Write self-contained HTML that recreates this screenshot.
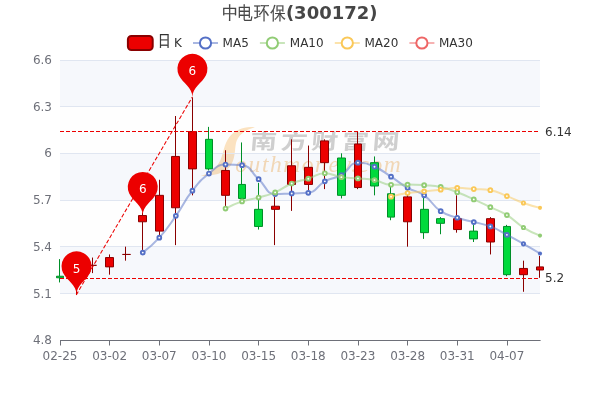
<!DOCTYPE html>
<html lang="zh"><head><meta charset="utf-8"><title>中电环保(300172)</title>
<style>html,body{margin:0;padding:0;background:#fff}body{width:600px;height:400px;overflow:hidden}svg{display:block;font-family:'DejaVu Sans', 'Liberation Sans', sans-serif}</style>
</head><body>
<svg width="600" height="400" viewBox="0 0 600 400">
<rect width="600" height="400" fill="#fff"/>
<g><path d="M255 127.3C245 126 235 129.5 229 137.5C224 144.5 223.5 153 220.5 160C217.5 167 210 173.5 200.5 176C213 176 224.5 173.5 230 166.5C235.5 159.5 234.5 150 236 143C237.5 136 244.5 130 255 127.3Z" fill="#fcddb2"/><g style="font-family:'Liberation Sans','Noto Sans CJK SC',sans-serif" font-weight="bold" font-size="21" fill="#c5c5c5"><text transform="translate(249.6 149.0) skewX(-5) scale(1.28 1)">南</text><text transform="translate(280.2 149.0) skewX(-5) scale(1.28 1)">方</text><text transform="translate(310.8 149.0) skewX(-5) scale(1.28 1)">财</text><text transform="translate(341.4 149.0) skewX(-5) scale(1.28 1)">富</text><text transform="translate(372.0 149.0) skewX(-5) scale(1.28 1)">网</text></g><text x="235.3" y="172" font-size="23.5" fill="#f9d6a8" style="font-family:'Liberation Serif',serif" font-style="italic" textLength="165.5" lengthAdjust="spacing">outhmoney.com</text></g>
<rect x="60" y="60" width="480" height="46.67" fill="rgba(210,219,238,0.2)"/>
<rect x="60" y="106.67" width="480" height="46.67" fill="rgba(250,250,250,0.2)"/>
<rect x="60" y="153.33" width="480" height="46.67" fill="rgba(210,219,238,0.2)"/>
<rect x="60" y="200" width="480" height="46.67" fill="rgba(250,250,250,0.2)"/>
<rect x="60" y="246.67" width="480" height="46.67" fill="rgba(210,219,238,0.2)"/>
<rect x="60" y="293.33" width="480" height="46.67" fill="rgba(250,250,250,0.2)"/>
<line x1="60" x2="540" y1="60.5" y2="60.5" stroke="#E0E6F1" stroke-width="1"/>
<line x1="60" x2="540" y1="106.5" y2="106.5" stroke="#E0E6F1" stroke-width="1"/>
<line x1="60" x2="540" y1="153.5" y2="153.5" stroke="#E0E6F1" stroke-width="1"/>
<line x1="60" x2="540" y1="200.5" y2="200.5" stroke="#E0E6F1" stroke-width="1"/>
<line x1="60" x2="540" y1="246.5" y2="246.5" stroke="#E0E6F1" stroke-width="1"/>
<line x1="60" x2="540" y1="293.5" y2="293.5" stroke="#E0E6F1" stroke-width="1"/>
<line x1="60" x2="540.6" y1="340.5" y2="340.5" stroke="#6E7079" stroke-width="1"/>
<line x1="60.5" x2="60.5" y1="340.5" y2="345.5" stroke="#6E7079" stroke-width="1"/>
<text x="60" y="360" font-size="12" fill="#6E7079" text-anchor="middle">02-25</text>
<line x1="109.5" x2="109.5" y1="340.5" y2="345.5" stroke="#6E7079" stroke-width="1"/>
<text x="109.66" y="360" font-size="12" fill="#6E7079" text-anchor="middle">03-02</text>
<line x1="159.5" x2="159.5" y1="340.5" y2="345.5" stroke="#6E7079" stroke-width="1"/>
<text x="159.31" y="360" font-size="12" fill="#6E7079" text-anchor="middle">03-07</text>
<line x1="209.5" x2="209.5" y1="340.5" y2="345.5" stroke="#6E7079" stroke-width="1"/>
<text x="208.97" y="360" font-size="12" fill="#6E7079" text-anchor="middle">03-10</text>
<line x1="258.5" x2="258.5" y1="340.5" y2="345.5" stroke="#6E7079" stroke-width="1"/>
<text x="258.62" y="360" font-size="12" fill="#6E7079" text-anchor="middle">03-15</text>
<line x1="308.5" x2="308.5" y1="340.5" y2="345.5" stroke="#6E7079" stroke-width="1"/>
<text x="308.28" y="360" font-size="12" fill="#6E7079" text-anchor="middle">03-18</text>
<line x1="358.5" x2="358.5" y1="340.5" y2="345.5" stroke="#6E7079" stroke-width="1"/>
<text x="357.93" y="360" font-size="12" fill="#6E7079" text-anchor="middle">03-23</text>
<line x1="407.5" x2="407.5" y1="340.5" y2="345.5" stroke="#6E7079" stroke-width="1"/>
<text x="407.59" y="360" font-size="12" fill="#6E7079" text-anchor="middle">03-28</text>
<line x1="457.5" x2="457.5" y1="340.5" y2="345.5" stroke="#6E7079" stroke-width="1"/>
<text x="457.24" y="360" font-size="12" fill="#6E7079" text-anchor="middle">03-31</text>
<line x1="507.5" x2="507.5" y1="340.5" y2="345.5" stroke="#6E7079" stroke-width="1"/>
<text x="506.9" y="360" font-size="12" fill="#6E7079" text-anchor="middle">04-07</text>
<text x="52" y="64.4" font-size="12" fill="#6E7079" text-anchor="end">6.6</text>
<text x="52" y="111.07" font-size="12" fill="#6E7079" text-anchor="end">6.3</text>
<text x="52" y="156.73" font-size="12" fill="#6E7079" text-anchor="end">6</text>
<text x="52" y="204.4" font-size="12" fill="#6E7079" text-anchor="end">5.7</text>
<text x="52" y="251.07" font-size="12" fill="#6E7079" text-anchor="end">5.4</text>
<text x="52" y="297.73" font-size="12" fill="#6E7079" text-anchor="end">5.1</text>
<text x="52" y="344.4" font-size="12" fill="#6E7079" text-anchor="end">4.8</text>
<path d="M56.5 276.22L63.5 276.22L63.5 277.78L56.5 277.78ZM59.5 259.11L59.5 276.22M59.5 277.78L59.5 282.44" fill="#00da3c" stroke="#008F28" stroke-width="1"/>
<path d="M72.5 270L80.5 270L80.5 273.11L72.5 273.11ZM76.5 262.22L76.5 270M76.5 273.11L76.5 294.89" fill="#ec0000" stroke="#8A0000" stroke-width="1"/>
<path d="M89.5 265.33L96.5 265.33L96.5 265.33L89.5 265.33ZM92.5 257.56L92.5 265.33M92.5 265.33L92.5 273.11" fill="#ec0000" stroke="#8A0000" stroke-width="1"/>
<path d="M105.5 257.56L113.5 257.56L113.5 266.89L105.5 266.89ZM109.5 254.44L109.5 257.56M109.5 266.89L109.5 274.67" fill="#ec0000" stroke="#8A0000" stroke-width="1"/>
<path d="M122.5 254.44L130.5 254.44L130.5 254.44L122.5 254.44ZM125.5 246.67L125.5 254.44M125.5 254.44L125.5 260.67" fill="#ec0000" stroke="#8A0000" stroke-width="1"/>
<path d="M138.5 215.56L146.5 215.56L146.5 221.78L138.5 221.78ZM142.5 212.44L142.5 215.56M142.5 221.78L142.5 252.89" fill="#ec0000" stroke="#8A0000" stroke-width="1"/>
<path d="M155.5 195.33L163.5 195.33L163.5 231.11L155.5 231.11ZM159.5 179.78L159.5 195.33M159.5 231.11L159.5 237.33" fill="#ec0000" stroke="#8A0000" stroke-width="1"/>
<path d="M171.5 156.44L179.5 156.44L179.5 207.78L171.5 207.78ZM175.5 116L175.5 156.44M175.5 207.78L175.5 245.11" fill="#ec0000" stroke="#8A0000" stroke-width="1"/>
<path d="M188.5 131.56L196.5 131.56L196.5 168.89L188.5 168.89ZM192.5 97.33L192.5 131.56M192.5 168.89L192.5 195.33" fill="#ec0000" stroke="#8A0000" stroke-width="1"/>
<path d="M205.5 139.33L212.5 139.33L212.5 168.89L205.5 168.89ZM208.5 126.89L208.5 139.33M208.5 168.89L208.5 170.44" fill="#00da3c" stroke="#008F28" stroke-width="1"/>
<path d="M221.5 170.44L229.5 170.44L229.5 195.33L221.5 195.33ZM225.5 150.22L225.5 170.44M225.5 195.33L225.5 206.22" fill="#ec0000" stroke="#8A0000" stroke-width="1"/>
<path d="M238.5 184.44L245.5 184.44L245.5 198.44L238.5 198.44ZM241.5 142.44L241.5 184.44M241.5 198.44L241.5 200" fill="#00da3c" stroke="#008F28" stroke-width="1"/>
<path d="M254.5 209.33L262.5 209.33L262.5 226.44L254.5 226.44ZM258.5 182.89L258.5 209.33M258.5 226.44L258.5 229.56" fill="#00da3c" stroke="#008F28" stroke-width="1"/>
<path d="M271.5 206.22L279.5 206.22L279.5 209.33L271.5 209.33ZM274.5 196.89L274.5 206.22M274.5 209.33L274.5 245.11" fill="#ec0000" stroke="#8A0000" stroke-width="1"/>
<path d="M287.5 165.78L295.5 165.78L295.5 184.44L287.5 184.44ZM291.5 139.33L291.5 165.78M291.5 184.44L291.5 210.89" fill="#ec0000" stroke="#8A0000" stroke-width="1"/>
<path d="M304.5 167.33L312.5 167.33L312.5 184.44L304.5 184.44ZM308.5 145.56L308.5 167.33M308.5 184.44L308.5 190.67" fill="#ec0000" stroke="#8A0000" stroke-width="1"/>
<path d="M320.5 140.89L328.5 140.89L328.5 162.67L320.5 162.67ZM324.5 139.33L324.5 140.89M324.5 162.67L324.5 189.11" fill="#ec0000" stroke="#8A0000" stroke-width="1"/>
<path d="M337.5 158L345.5 158L345.5 195.33L337.5 195.33ZM341.5 153.33L341.5 158M341.5 195.33L341.5 198.44" fill="#00da3c" stroke="#008F28" stroke-width="1"/>
<path d="M354.5 144L361.5 144L361.5 187.56L354.5 187.56ZM357.5 131.56L357.5 144M357.5 187.56L357.5 189.11" fill="#ec0000" stroke="#8A0000" stroke-width="1"/>
<path d="M370.5 162.67L378.5 162.67L378.5 186L370.5 186ZM374.5 156.44L374.5 162.67M374.5 186L374.5 195.33" fill="#00da3c" stroke="#008F28" stroke-width="1"/>
<path d="M387.5 193.78L394.5 193.78L394.5 217.11L387.5 217.11ZM390.5 184.44L390.5 193.78M390.5 217.11L390.5 220.22" fill="#00da3c" stroke="#008F28" stroke-width="1"/>
<path d="M403.5 196.89L411.5 196.89L411.5 221.78L403.5 221.78ZM407.5 187.56L407.5 196.89M407.5 221.78L407.5 246.67" fill="#ec0000" stroke="#8A0000" stroke-width="1"/>
<path d="M420.5 209.33L428.5 209.33L428.5 232.67L420.5 232.67ZM423.5 195.33L423.5 209.33M423.5 232.67L423.5 238.89" fill="#00da3c" stroke="#008F28" stroke-width="1"/>
<path d="M436.5 218.67L444.5 218.67L444.5 223.33L436.5 223.33ZM440.5 217.11L440.5 218.67M440.5 223.33L440.5 234.22" fill="#00da3c" stroke="#008F28" stroke-width="1"/>
<path d="M453.5 218.67L461.5 218.67L461.5 229.56L453.5 229.56ZM456.5 195.33L456.5 218.67M456.5 229.56L456.5 232.67" fill="#ec0000" stroke="#8A0000" stroke-width="1"/>
<path d="M469.5 231.11L477.5 231.11L477.5 238.89L469.5 238.89ZM473.5 224.89L473.5 231.11M473.5 238.89L473.5 242" fill="#00da3c" stroke="#008F28" stroke-width="1"/>
<path d="M486.5 218.67L494.5 218.67L494.5 242L486.5 242ZM490.5 217.11L490.5 218.67M490.5 242L490.5 254.44" fill="#ec0000" stroke="#8A0000" stroke-width="1"/>
<path d="M503.5 226.44L510.5 226.44L510.5 274.67L503.5 274.67ZM506.5 224.89L506.5 226.44M506.5 274.67L506.5 276.22" fill="#00da3c" stroke="#008F28" stroke-width="1"/>
<path d="M519.5 268.44L527.5 268.44L527.5 274.67L519.5 274.67ZM523.5 260.67L523.5 268.44M523.5 274.67L523.5 291.78" fill="#ec0000" stroke="#8A0000" stroke-width="1"/>
<path d="M536.5 266.89L543.5 266.89L543.5 270L536.5 270ZM539.5 256L539.5 266.89M539.5 270L539.5 277.78" fill="#ec0000" stroke="#8A0000" stroke-width="1"/>
<line x1="60" x2="540" y1="131.5" y2="131.5" stroke="#ec0000" stroke-width="1" stroke-dasharray="4 2"/>
<text x="545" y="135.9" font-size="12" fill="#333">6.14</text>
<line x1="60" x2="540" y1="278.5" y2="278.5" stroke="#ec0000" stroke-width="1" stroke-dasharray="4 2"/>
<text x="545" y="281.9" font-size="12" fill="#333">5.2</text>
<line x1="76.25" y1="294.89" x2="192.11" y2="97.33" stroke="#ec0000" stroke-width="1.05" stroke-dasharray="4 2"/>
<path d="M142.76 252.58C142.76 252.58 151.88 245.89 159.31 237.64C168.43 227.53 167.99 227.04 175.86 215.87C184.54 203.55 183.17 202.49 192.41 190.67C199.72 181.33 199.73 180.85 208.97 173.56C216.28 167.78 216.71 164.53 225.52 164.53C233.26 164.53 234.9 164.53 242.07 165.16C251.45 165.97 250.46 172.02 258.62 179.16C267.01 186.49 265.68 194.09 275.17 194.09C282.23 194.09 283.45 193.78 291.72 193.47C300 193.16 300.81 193.47 308.28 192.84C317.36 192.09 316.01 186.06 324.83 181.33C332.56 177.19 333.76 179.41 341.38 175.11C350.31 170.08 348.85 162.67 357.93 162.67C365.4 162.67 366.73 163.43 374.48 166.71C383.28 170.43 382.9 171.47 391.03 176.67C399.45 182.05 398.91 182.98 407.59 187.87C415.47 192.31 416.82 190.18 424.14 195.33C433.37 201.84 431.37 204.89 440.69 211.2C447.92 216.09 448.8 214.96 457.24 217.73C465.36 220.4 465.52 219.91 473.79 222.09C482.07 224.27 482.4 223.38 490.34 226.44C498.96 229.76 498.68 230.52 506.9 234.84C515.24 239.23 515.24 239.24 523.45 243.87C531.79 248.57 540 253.51 540 253.51" fill="none" stroke="#5470c6" stroke-width="2" stroke-opacity="0.5" stroke-linejoin="bevel"/>
<circle cx="142.76" cy="252.58" r="1.9" fill="#fff" stroke="#5470c6" stroke-width="1.9"/>
<circle cx="159.31" cy="237.64" r="1.9" fill="#fff" stroke="#5470c6" stroke-width="1.9"/>
<circle cx="175.86" cy="215.87" r="1.9" fill="#fff" stroke="#5470c6" stroke-width="1.9"/>
<circle cx="192.41" cy="190.67" r="1.9" fill="#fff" stroke="#5470c6" stroke-width="1.9"/>
<circle cx="208.97" cy="173.56" r="1.9" fill="#fff" stroke="#5470c6" stroke-width="1.9"/>
<circle cx="225.52" cy="164.53" r="1.9" fill="#fff" stroke="#5470c6" stroke-width="1.9"/>
<circle cx="242.07" cy="165.16" r="1.9" fill="#fff" stroke="#5470c6" stroke-width="1.9"/>
<circle cx="258.62" cy="179.16" r="1.9" fill="#fff" stroke="#5470c6" stroke-width="1.9"/>
<circle cx="275.17" cy="194.09" r="1.9" fill="#fff" stroke="#5470c6" stroke-width="1.9"/>
<circle cx="291.72" cy="193.47" r="1.9" fill="#fff" stroke="#5470c6" stroke-width="1.9"/>
<circle cx="308.28" cy="192.84" r="1.9" fill="#fff" stroke="#5470c6" stroke-width="1.9"/>
<circle cx="324.83" cy="181.33" r="1.9" fill="#fff" stroke="#5470c6" stroke-width="1.9"/>
<circle cx="341.38" cy="175.11" r="1.9" fill="#fff" stroke="#5470c6" stroke-width="1.9"/>
<circle cx="357.93" cy="162.67" r="1.9" fill="#fff" stroke="#5470c6" stroke-width="1.9"/>
<circle cx="374.48" cy="166.71" r="1.9" fill="#fff" stroke="#5470c6" stroke-width="1.9"/>
<circle cx="391.03" cy="176.67" r="1.9" fill="#fff" stroke="#5470c6" stroke-width="1.9"/>
<circle cx="407.59" cy="187.87" r="1.9" fill="#fff" stroke="#5470c6" stroke-width="1.9"/>
<circle cx="424.14" cy="195.33" r="1.9" fill="#fff" stroke="#5470c6" stroke-width="1.9"/>
<circle cx="440.69" cy="211.2" r="1.9" fill="#fff" stroke="#5470c6" stroke-width="1.9"/>
<circle cx="457.24" cy="217.73" r="1.9" fill="#fff" stroke="#5470c6" stroke-width="1.9"/>
<circle cx="473.79" cy="222.09" r="1.9" fill="#fff" stroke="#5470c6" stroke-width="1.9"/>
<circle cx="490.34" cy="226.44" r="1.9" fill="#fff" stroke="#5470c6" stroke-width="1.9"/>
<circle cx="506.9" cy="234.84" r="1.9" fill="#fff" stroke="#5470c6" stroke-width="1.9"/>
<circle cx="523.45" cy="243.87" r="1.6" fill="#fff" stroke="#5470c6" stroke-width="1.9"/>
<circle cx="540" cy="253.51" r="2.05" fill="#5470c6"/>
<path d="M225.52 208.56C225.52 208.56 233.55 204.24 242.07 201.4C250.1 198.72 250.42 199.75 258.62 197.51C266.98 195.23 267.23 195.74 275.17 192.38C283.78 188.74 283.1 187.08 291.72 183.51C299.65 180.23 300.04 181.24 308.28 178.69C316.6 176.11 316.45 173.24 324.83 173.24C333 173.24 333 175.86 341.38 177.13C349.56 178.38 349.67 177.64 357.93 178.38C366.22 179.12 366.34 178.52 374.48 180.09C382.89 181.71 382.6 184.76 391.03 184.76C399.15 184.76 399.31 184.6 407.59 184.6C415.86 184.6 415.88 184.64 424.14 185.22C432.43 185.81 432.59 185.22 440.69 186.93C449.14 188.72 449.12 189.17 457.24 192.22C465.67 195.39 465.58 195.67 473.79 199.38C482.13 203.14 482.08 203.23 490.34 207.16C498.64 211.09 499.12 210.3 506.9 215.09C515.67 220.49 514.69 222.1 523.45 227.53C531.24 232.37 540 235.62 540 235.62" fill="none" stroke="#91cc75" stroke-width="2" stroke-opacity="0.5" stroke-linejoin="bevel"/>
<circle cx="225.52" cy="208.56" r="1.9" fill="#fff" stroke="#91cc75" stroke-width="1.9"/>
<circle cx="242.07" cy="201.4" r="1.9" fill="#fff" stroke="#91cc75" stroke-width="1.9"/>
<circle cx="258.62" cy="197.51" r="1.9" fill="#fff" stroke="#91cc75" stroke-width="1.9"/>
<circle cx="275.17" cy="192.38" r="1.9" fill="#fff" stroke="#91cc75" stroke-width="1.9"/>
<circle cx="291.72" cy="183.51" r="1.9" fill="#fff" stroke="#91cc75" stroke-width="1.9"/>
<circle cx="308.28" cy="178.69" r="1.9" fill="#fff" stroke="#91cc75" stroke-width="1.9"/>
<circle cx="324.83" cy="173.24" r="1.9" fill="#fff" stroke="#91cc75" stroke-width="1.9"/>
<circle cx="341.38" cy="177.13" r="1.9" fill="#fff" stroke="#91cc75" stroke-width="1.9"/>
<circle cx="357.93" cy="178.38" r="1.9" fill="#fff" stroke="#91cc75" stroke-width="1.9"/>
<circle cx="374.48" cy="180.09" r="1.9" fill="#fff" stroke="#91cc75" stroke-width="1.9"/>
<circle cx="391.03" cy="184.76" r="1.9" fill="#fff" stroke="#91cc75" stroke-width="1.9"/>
<circle cx="407.59" cy="184.6" r="1.9" fill="#fff" stroke="#91cc75" stroke-width="1.9"/>
<circle cx="424.14" cy="185.22" r="1.9" fill="#fff" stroke="#91cc75" stroke-width="1.9"/>
<circle cx="440.69" cy="186.93" r="1.9" fill="#fff" stroke="#91cc75" stroke-width="1.9"/>
<circle cx="457.24" cy="192.22" r="1.9" fill="#fff" stroke="#91cc75" stroke-width="1.9"/>
<circle cx="473.79" cy="199.38" r="1.9" fill="#fff" stroke="#91cc75" stroke-width="1.9"/>
<circle cx="490.34" cy="207.16" r="1.9" fill="#fff" stroke="#91cc75" stroke-width="1.9"/>
<circle cx="506.9" cy="215.09" r="1.9" fill="#fff" stroke="#91cc75" stroke-width="1.9"/>
<circle cx="523.45" cy="227.53" r="1.6" fill="#fff" stroke="#91cc75" stroke-width="1.9"/>
<circle cx="540" cy="235.62" r="2.05" fill="#91cc75"/>
<path d="M391.03 196.66C391.03 196.66 399.23 194.33 407.59 193C415.78 191.69 415.86 192.2 424.14 191.37C432.42 190.53 432.42 190.53 440.69 189.66C448.97 188.78 448.95 187.87 457.24 187.87C465.5 187.87 465.52 188.45 473.79 189.03C482.07 189.62 482.31 189.03 490.34 190.2C498.86 191.44 498.7 192.95 506.9 196.11C515.25 199.33 515.02 199.97 523.45 202.96C531.57 205.84 540 207.86 540 207.86" fill="none" stroke="#fac858" stroke-width="2" stroke-opacity="0.5" stroke-linejoin="bevel"/>
<circle cx="391.03" cy="196.66" r="1.9" fill="#fff" stroke="#fac858" stroke-width="1.9"/>
<circle cx="407.59" cy="193" r="1.9" fill="#fff" stroke="#fac858" stroke-width="1.9"/>
<circle cx="424.14" cy="191.37" r="1.9" fill="#fff" stroke="#fac858" stroke-width="1.9"/>
<circle cx="440.69" cy="189.66" r="1.9" fill="#fff" stroke="#fac858" stroke-width="1.9"/>
<circle cx="457.24" cy="187.87" r="1.9" fill="#fff" stroke="#fac858" stroke-width="1.9"/>
<circle cx="473.79" cy="189.03" r="1.9" fill="#fff" stroke="#fac858" stroke-width="1.9"/>
<circle cx="490.34" cy="190.2" r="1.9" fill="#fff" stroke="#fac858" stroke-width="1.9"/>
<circle cx="506.9" cy="196.11" r="1.9" fill="#fff" stroke="#fac858" stroke-width="1.9"/>
<circle cx="523.45" cy="202.96" r="1.6" fill="#fff" stroke="#fac858" stroke-width="1.9"/>
<circle cx="540" cy="207.86" r="2.05" fill="#fac858"/>
<path d="M178.86 75.19A15 15 0 1 1 205.97 75.19C202.11 83.32 192.41 86.83 192.41 97.33C192.41 86.83 182.72 83.32 178.86 75.19Z" fill="#ec0000"/>
<text x="192.41" y="74.66" font-size="12" fill="#fff" text-anchor="middle">6</text>
<path d="M63 272.75A15 15 0 1 1 90.1 272.75C86.25 280.88 76.55 284.39 76.55 294.89C76.55 284.39 66.86 280.88 63 272.75Z" fill="#ec0000"/>
<text x="76.55" y="273.22" font-size="12" fill="#fff" text-anchor="middle">5</text>
<path d="M129.21 193.42A15 15 0 1 1 156.31 193.42C152.45 201.55 142.76 205.06 142.76 215.56C142.76 205.06 133.06 201.55 129.21 193.42Z" fill="#ec0000"/>
<text x="142.76" y="192.89" font-size="12" fill="#fff" text-anchor="middle">6</text>
<text transform="translate(222.2 19) scale(1 1.125)" font-size="16" fill="#464646" stroke="#464646" stroke-width="0.15" style="font-family:'Liberation Sans','WenQuanYi Zen Hei',sans-serif">中</text><text transform="translate(237.7 19) scale(0.925 1.125)" font-size="16" fill="#464646" stroke="#464646" stroke-width="0.15" style="font-family:'Liberation Sans','WenQuanYi Zen Hei',sans-serif">电</text><text transform="translate(254.0 19) scale(0.965 1.125)" font-size="16" fill="#464646" stroke="#464646" stroke-width="0.15" style="font-family:'Liberation Sans','WenQuanYi Zen Hei',sans-serif">环</text><text transform="translate(270.3 19) scale(0.975 1.125)" font-size="16" fill="#464646" stroke="#464646" stroke-width="0.15" style="font-family:'Liberation Sans','WenQuanYi Zen Hei',sans-serif">保</text><text x="285.9" y="19" font-size="18" font-weight="bold" fill="#464646">(300172)</text>
<g>
<rect x="127.9" y="36" width="24.8" height="14" rx="3.5" fill="#ec0000" stroke="#8A0000" stroke-width="2"/>
<text transform="translate(158.05 45.9) scale(0.8 0.98)" font-size="16" fill="#333" stroke="#333" stroke-width="0.35" style="font-family:'Liberation Sans','WenQuanYi Zen Hei',sans-serif">日</text>
<text x="174" y="47" font-size="12" fill="#333">K</text>
<g fill="none" stroke="#5470c6" stroke-width="2"><path d="M193 43H199.9M211.1 43H218" stroke-opacity="0.5"/><circle cx="205.5" cy="43" r="5.6" fill="#fff"/></g>
<text x="222.6" y="47" font-size="12" fill="#333">MA5</text>
<g fill="none" stroke="#91cc75" stroke-width="2"><path d="M259.9 43H266.79999999999995M278.0 43H284.9" stroke-opacity="0.5"/><circle cx="272.4" cy="43" r="5.6" fill="#fff"/></g>
<text x="289.8" y="47" font-size="12" fill="#333">MA10</text>
<g fill="none" stroke="#fac858" stroke-width="2"><path d="M334.8 43H341.7M352.90000000000003 43H359.8" stroke-opacity="0.5"/><circle cx="347.3" cy="43" r="5.6" fill="#fff"/></g>
<text x="364.5" y="47" font-size="12" fill="#333">MA20</text>
<g fill="none" stroke="#ee6666" stroke-width="2"><path d="M409.4 43H416.29999999999995M427.5 43H434.4" stroke-opacity="0.5"/><circle cx="421.9" cy="43" r="5.6" fill="#fff"/></g>
<text x="439" y="47" font-size="12" fill="#333">MA30</text>
</g>
</svg>
</body></html>
